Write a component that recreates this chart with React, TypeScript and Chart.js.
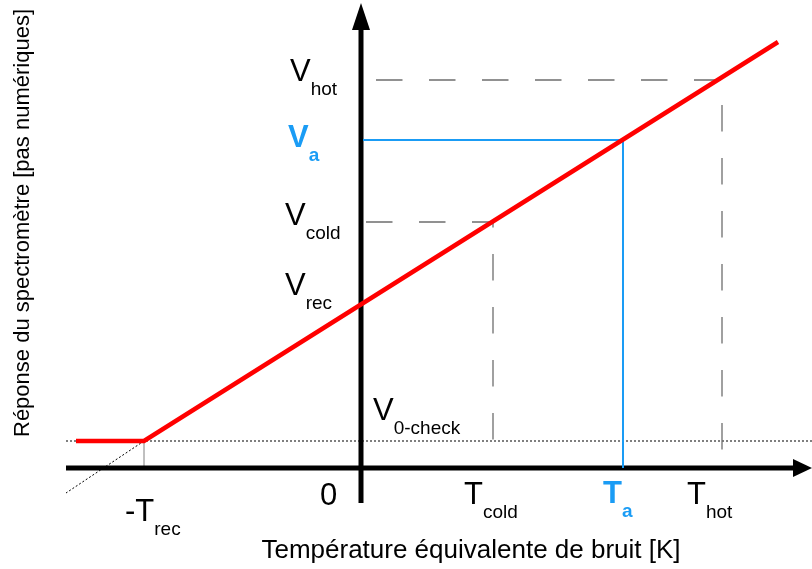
import React, { useEffect, useRef } from "react";
import { Chart, registerables } from "chart.js";

Chart.register(...registerables);

// ---- Data (abstract units: temperature T, response V) ----
const T_REC = -217;
const T_COLD = 132;
const T_A = 262;
const T_HOT = 361;

const V_CHECK = 27;
const V_REC = 163;
const V_COLD = 246;
const V_A = 328;
const V_HOT = 388;

// red response curve (saturated at V_CHECK below -T_rec)
const redT = [-285, T_REC, 417];
const redV = [V_CHECK, V_CHECK, 426];
// dotted extrapolation of the response below -T_rec
const extT = [T_REC, -295];
const extV = [V_CHECK, -25];
// axis extents
const xAxisT = [-295, 432, 451]; // start, arrow base, arrow tip
const yAxisV = [-35, 438, 465]; // start, arrow base, arrow tip
const viewT = [-361, 451];
const viewV = [-101, 468];
// dashed guide start (near V axis)
const guideStartT = [5, 15, 2]; // cold, hot, a

const xTitle = "Température équivalente de bruit [K]";
const yTitle = "Réponse du spectromètre [pas numériques]";

const FONT = '"Liberation Sans", Arial, Helvetica, sans-serif';
const RED = "#ff0000";
const BLUE = "#1a9cf5";
const GRAY = "#6e6e6e";

const pts = (xs: number[], ys: number[]) => xs.map((x, i) => ({ x, y: ys[i] }));

function drawLabel(
  ctx: CanvasRenderingContext2D,
  main: string,
  sub: string,
  x: number,
  y: number,
  color: string,
  bold = false
) {
  ctx.fillStyle = color;
  ctx.textAlign = "left";
  ctx.textBaseline = "alphabetic";
  ctx.font = `${bold ? "bold " : ""}31px ${FONT}`;
  ctx.fillText(main, x, y);
  const w = ctx.measureText(main).width;
  if (sub) {
    ctx.font = `${bold ? "bold " : ""}19px ${FONT}`;
    ctx.fillText(sub, x + w, y + 14);
  }
}

const overlayPlugin = {
  id: "overlay",
  afterDatasetsDraw(chart: any) {
    const { ctx, scales } = chart;
    const sx = scales.x;
    const sy = scales.y;
    const px = (t: number) => sx.getPixelForValue(t);
    const py = (v: number) => sy.getPixelForValue(v);
    ctx.save();
    // arrow heads
    ctx.fillStyle = "#000";
    const ax = px(0);
    const ay = py(0);
    ctx.beginPath();
    ctx.moveTo(ax, py(yAxisV[2]));
    ctx.lineTo(ax - 9, py(yAxisV[1]));
    ctx.lineTo(ax + 9, py(yAxisV[1]));
    ctx.closePath();
    ctx.fill();
    ctx.beginPath();
    ctx.moveTo(px(xAxisT[2]), ay);
    ctx.lineTo(px(xAxisT[1]), ay - 9);
    ctx.lineTo(px(xAxisT[1]), ay + 9);
    ctx.closePath();
    ctx.fill();

    // V labels
    drawLabel(ctx, "V", "hot", ax - 71, py(V_HOT) + 1, "#000");
    drawLabel(ctx, "V", "a", ax - 73, py(V_A) + 7, BLUE, true);
    drawLabel(ctx, "V", "cold", ax - 76, py(V_COLD) + 3, "#000");
    drawLabel(ctx, "V", "rec", ax - 76, py(V_REC) - 10, "#000");
    drawLabel(ctx, "V", "0-check", ax + 12, py(V_CHECK) - 21, "#000");
    // T labels
    drawLabel(ctx, "0", "", ax - 41, ay + 37, "#000");
    drawLabel(ctx, "-T", "rec", px(T_REC) - 19, ay + 53, "#000");
    drawLabel(ctx, "T", "cold", px(T_COLD) - 29, ay + 36, "#000");
    drawLabel(ctx, "T", "a", px(T_A) - 20, ay + 35, BLUE, true);
    drawLabel(ctx, "T", "hot", px(T_HOT) - 35, ay + 36, "#000");

    // axis titles
    ctx.fillStyle = "#000";
    ctx.font = `26px ${FONT}`;
    ctx.textAlign = "center";
    ctx.textBaseline = "alphabetic";
    ctx.fillText(xTitle, 471, 558);
    ctx.save();
    ctx.translate(29, 223);
    ctx.rotate(-Math.PI / 2);
    ctx.font = `22px ${FONT}`;
    ctx.fillText(yTitle, 0, 0);
    ctx.restore();
    ctx.restore();
  },
};

export default function App() {
  const ref = useRef<HTMLCanvasElement | null>(null);
  useEffect(() => {
    if (!ref.current) return;
    const line = (data: any[], color: string, width: number, order: number, dash: number[] = []) => ({
      data,
      showLine: true,
      borderColor: color,
      backgroundColor: color,
      borderWidth: width,
      borderDash: dash,
      borderCapStyle: "butt",
      borderJoinStyle: "miter",
      pointRadius: 0,
      pointHoverRadius: 0,
      fill: false,
      tension: 0,
      order,
    });
    const chart = new Chart(ref.current, {
      type: "scatter",
      data: {
        datasets: [
          line(pts(redT, redV), RED, 4.5, 0),
          line(pts([guideStartT[2], T_A, T_A], [V_A, V_A, 0]), BLUE, 2, 1),
          line(pts([xAxisT[0], xAxisT[1]], [0, 0]), "#000", 5, 2),
          line(pts([0, 0], [yAxisV[0], yAxisV[1]]), "#000", 5, 2),
          line(pts([guideStartT[0], T_COLD, T_COLD], [V_COLD, V_COLD, 0]), GRAY, 1.3, 3, [26.5, 26.5]),
          line(pts([guideStartT[1], T_HOT, T_HOT], [V_HOT, V_HOT, 0]), GRAY, 1.3, 3, [26.5, 26.5]),
          line(pts(extT, extV), "#000", 1, 4, [2, 2]),
          line(pts([xAxisT[0], viewT[1]], [V_CHECK, V_CHECK]), "#000", 1, 4, [2, 2]),
          line(pts([T_REC, T_REC], [0, V_CHECK]), "#808080", 1, 4),
        ] as any,
      },
      options: {
        animation: false,
        responsive: false,
        devicePixelRatio: 1,
        layout: { padding: 0 },
        events: [],
        plugins: { legend: { display: false }, tooltip: { enabled: false }, title: { display: false } },
        scales: {
          x: { type: "linear", min: viewT[0], max: viewT[1], display: false },
          y: { type: "linear", min: viewV[0], max: viewV[1], display: false },
        },
      } as any,
      plugins: [overlayPlugin],
    });
    return () => chart.destroy();
  }, []);
  return (
    <div style={{ position: "fixed", left: 0, top: 0, width: 812, height: 569, background: "#fff" }}>
      <canvas ref={ref} width={812} height={569} style={{ display: "block" }} />
    </div>
  );
}
